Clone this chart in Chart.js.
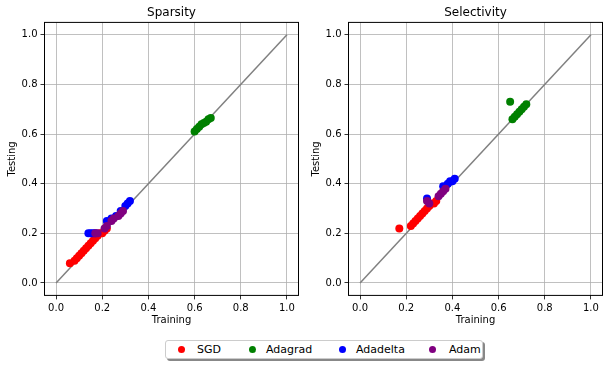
<!DOCTYPE html>
<html>
<head>
<meta charset="utf-8">
<script src="https://cdn.jsdelivr.net/npm/chart.js@4"></script>
<style>
    body { margin: 0; background: #fff; font-family: "DejaVu Sans", sans-serif; }
    #wrap { position: relative; width: 609px; height: 365px; }
    .box { position: absolute; top: 0; width: 304px; height: 335px; }
    #legend {
        position: absolute; left: 165px; top: 340px; width: 316px; height: 17px;
        border: 1px solid #ccc; border-radius: 3px; background: #fff;
        box-shadow: 2px 2px 0 #888; font-size: 11px; color: #000;
    }
    #legend span { position: absolute; top: 2px; }
    #legend i { position: absolute; top: 5px; width: 7px; height: 7px; border-radius: 50%; }
</style>
</head>
<body>
<div id="wrap">
    <div class="box" style="left:0"><canvas id="sparsityChart"></canvas></div>
    <div class="box" style="left:304px"><canvas id="selectivityChart"></canvas></div>
    <div id="legend">
        <i style="left:12px;background:red"></i><span style="left:31px">SGD</span>
        <i style="left:83px;background:green"></i><span style="left:100px">Adagrad</span>
        <i style="left:173px;background:blue"></i><span style="left:190px">Adadelta</span>
        <i style="left:263px;background:purple"></i><span style="left:283px">Adam</span>
    </div>
</div>
<script>
// tick labels / diagonal
const tickVals = [0, 0.2, 0.4, 0.6, 0.8, 1.0];
const diagX = [0, 1];
const diagY = [0, 1];

// --------------------
// Sparsity (train vs test)
// --------------------
const spSgdX = [0.06, 0.08, 0.09, 0.10, 0.11, 0.12, 0.13, 0.14, 0.15, 0.16, 0.17, 0.18, 0.19, 0.20, 0.21, 0.22];
const spSgdY = [0.08, 0.09, 0.10, 0.11, 0.12, 0.13, 0.14, 0.15, 0.16, 0.17, 0.18, 0.19, 0.20, 0.20, 0.21, 0.22];
const spAdagradX = [0.60, 0.61, 0.62, 0.63, 0.64, 0.65, 0.66, 0.67];
const spAdagradY = [0.61, 0.62, 0.63, 0.64, 0.645, 0.65, 0.66, 0.665];
const spAdadeltaX = [0.14, 0.15, 0.16, 0.17, 0.22, 0.24, 0.26, 0.28, 0.30, 0.31, 0.32];
const spAdadeltaY = [0.20, 0.20, 0.20, 0.20, 0.25, 0.26, 0.27, 0.29, 0.31, 0.32, 0.33];
const spAdamX = [0.17, 0.18, 0.21, 0.22, 0.24, 0.25, 0.27, 0.28, 0.29];
const spAdamY = [0.20, 0.20, 0.22, 0.23, 0.25, 0.26, 0.27, 0.28, 0.29];

// --------------------
// Selectivity (train vs test)
// --------------------
const seSgdX = [0.17, 0.22, 0.23, 0.24, 0.25, 0.26, 0.27, 0.28, 0.29, 0.30, 0.31, 0.32, 0.33];
const seSgdY = [0.22, 0.23, 0.24, 0.25, 0.26, 0.27, 0.28, 0.29, 0.30, 0.31, 0.32, 0.32, 0.33];
const seAdagradX = [0.65, 0.66, 0.67, 0.68, 0.69, 0.70, 0.71, 0.72];
const seAdagradY = [0.73, 0.66, 0.67, 0.68, 0.69, 0.70, 0.71, 0.72];
const seAdadeltaX = [0.29, 0.36, 0.38, 0.39, 0.40, 0.41];
const seAdadeltaY = [0.34, 0.39, 0.40, 0.41, 0.41, 0.42];
const seAdamX = [0.29, 0.30, 0.34, 0.35, 0.36, 0.37];
const seAdamY = [0.33, 0.32, 0.35, 0.36, 0.37, 0.38];

const zip = (xs, ys) => xs.map((x, i) => ({ x: x, y: ys[i] }));

const font = { family: "DejaVu Sans", size: 10 };

// full black frame round the plot area
const frame = {
    id: "frame",
    afterDraw(chart) {
        const a = chart.chartArea, c = chart.ctx;
        c.save();
        c.strokeStyle = "#000";
        c.lineWidth = 1;
        c.strokeRect(a.left, a.top, a.right - a.left, a.bottom - a.top);
        c.restore();
    }
};

function axis(title, isY) {
    return {
        min: -0.05,
        max: 1.05,
        afterBuildTicks: s => { s.ticks = tickVals.map(v => ({ value: v })); },
        afterFit: s => { if (isY) s.width = 44.5; else s.height = 39.6; },
        ticks: { color: "#000", font: font, padding: 3, callback: v => v.toFixed(1), maxRotation: 0 },
        grid: { color: "#b0b0b0", lineWidth: 0.8, tickLength: 4, tickColor: "#000" },
        border: { display: false },
        title: { display: true, text: title, color: "#000", font: font, padding: isY ? { top: 6, bottom: 2 } : { top: 2, bottom: 9 } }
    };
}

function scatter(id, title, sets) {
    const colors = ["red", "green", "blue", "purple"];
    // later series on top, like matplotlib
    const datasets = sets.map((d, i) => ({
        type: "scatter",
        data: d,
        backgroundColor: colors[i],
        borderColor: colors[i],
        borderWidth: 0,
        pointRadius: 4,
        order: 4 - i
    }));
    datasets.push({
        type: "line",
        data: zip(diagX, diagY),
        borderColor: "#808080",
        borderWidth: 1.5,
        pointRadius: 0,
        order: 9
    });
    new Chart(document.getElementById(id), {
        type: "scatter",
        data: { datasets: datasets },
        options: {
            responsive: true,
            maintainAspectRatio: false,
            animation: false,
            layout: { padding: { left: 0, right: 5.5, top: 0, bottom: 0 } },
            plugins: {
                legend: { display: false },
                tooltip: { enabled: false },
                title: {
                    display: true, text: title, color: "#000", fullSize: false,
                    font: { family: "DejaVu Sans", size: 12, weight: "normal" },
                    padding: { top: 6, bottom: 2 }
                }
            },
            scales: { x: axis("Training", false), y: axis("Testing", true) }
        },
        plugins: [frame]
    });
}

scatter("sparsityChart", "Sparsity", [
    zip(spSgdX, spSgdY), zip(spAdagradX, spAdagradY), zip(spAdadeltaX, spAdadeltaY), zip(spAdamX, spAdamY)
]);
scatter("selectivityChart", "Selectivity", [
    zip(seSgdX, seSgdY), zip(seAdagradX, seAdagradY), zip(seAdadeltaX, seAdadeltaY), zip(seAdamX, seAdamY)
]);
</script>
</body>
</html>
